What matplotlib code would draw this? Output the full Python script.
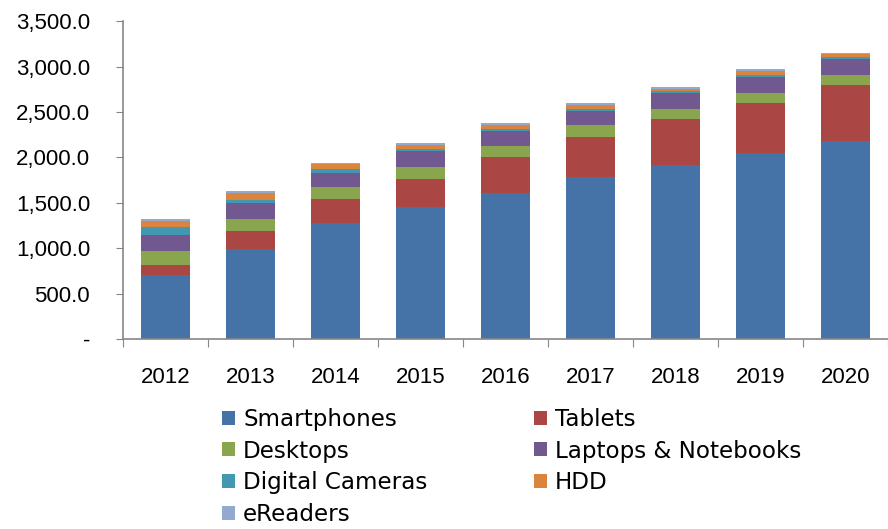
import matplotlib
matplotlib.use("Agg")
import matplotlib.pyplot as plt
from matplotlib.patches import Patch
from matplotlib.ticker import FuncFormatter, FixedLocator
import numpy as np

plt.rcParams['font.family'] = ['Liberation Sans', 'DejaVu Sans']

years = ["2012", "2013", "2014", "2015", "2016", "2017", "2018", "2019", "2020"]
series_names = ["Smartphones", "Tablets", "Desktops", "Laptops & Notebooks",
                "Digital Cameras", "HDD", "eReaders"]

smartphones = [705, 991, 1280, 1456, 1609, 1785, 1916, 2048, 2183]
tablets = [114, 201, 263, 307, 395, 439, 508, 549, 614]
desktops = [149, 128, 132, 131, 127, 131, 107, 109, 107]
laptops = [180, 180, 157, 176, 159, 154, 175, 176, 179]
cameras = [84, 36, 44, 25, 21, 25, 26, 22, 25]
hdd = [66, 69, 47, 47, 44, 44, 22, 47, 26]
ereaders = [22, 26, 15, 19, 22, 19, 18, 19, 14]

colors = ["#4572A7", "#AA4643", "#89A54E", "#71588F", "#4198AF", "#DB843D", "#93A9CF"]

data = [smartphones, tablets, desktops, laptops, cameras, hdd, ereaders]

fig = plt.figure(figsize=(8.88, 5.29), dpi=100)
ax = fig.add_axes([0.1385, 0.359, 0.8615, 0.601])

x = np.arange(len(years))
bottom = np.zeros(len(years))
for vals, c in zip(data, colors):
    ax.bar(x, vals, width=0.58, bottom=bottom, color=c, edgecolor="none")
    bottom += np.array(vals)

ax.set_xlim(-0.5, len(years) - 0.5)
ax.set_ylim(0, 3500)

ax.set_yticks(np.arange(0, 3501, 500))
ax.yaxis.set_major_formatter(FuncFormatter(lambda v, p: "-" if v == 0 else f"{v:,.1f}"))

# category boundaries get tick marks, labels sit at the centres
ax.xaxis.set_major_locator(FixedLocator(np.arange(-0.5, len(years), 1.0)))
ax.xaxis.set_minor_locator(FixedLocator(x))
ax.set_xticklabels([])
ax.set_xticklabels(years, minor=True)
ax.tick_params(axis="x", which="major", length=6, direction="out", color="#868686")
ax.tick_params(axis="x", which="minor", length=0, pad=20, labelsize=16)
ax.tick_params(axis="y", length=5, direction="out", color="#868686", pad=18.7, labelsize=16)

for s in ["top", "right"]:
    ax.spines[s].set_visible(False)
for s in ["left", "bottom"]:
    ax.spines[s].set_color("#868686")
    ax.spines[s].set_linewidth(1.2)

order = [0, 2, 4, 6, 1, 3, 5]
handles = [Patch(facecolor=colors[i]) for i in order]
labels = [series_names[i] for i in order]
fig.legend(handles, labels, ncol=2, loc="upper left", bbox_to_anchor=(0.237, 0.251),
           frameon=False, prop={"family": "DejaVu Sans", "size": 16.6},
           handlelength=0.57, handleheight=0.55,
           handletextpad=0.35, columnspacing=4.6, labelspacing=0.38, borderpad=0)

fig.savefig("out.png", dpi=100)
